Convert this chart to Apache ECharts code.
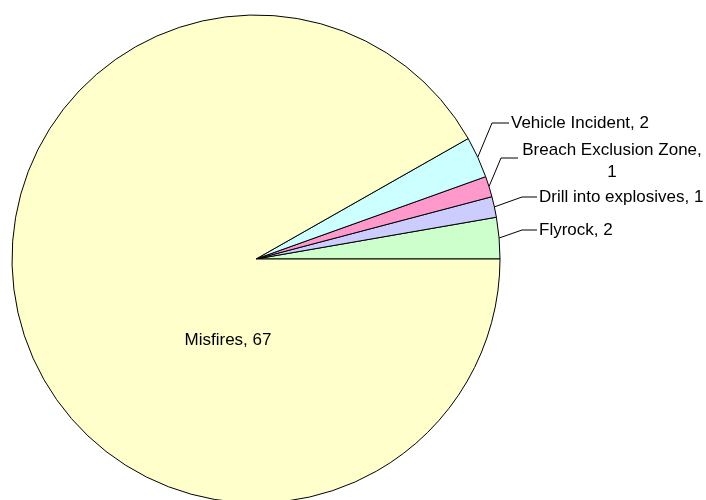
<!DOCTYPE html>
<html>
<head>
<meta charset="utf-8">
<script src="https://cdn.jsdelivr.net/npm/echarts@6/dist/echarts.min.js"></script>
<style>html,body{margin:0;padding:0;background:#fff}#c{width:706px;height:500px}</style>
</head>
<body>
<div id="c"></div>
<script>
var categories = ['Flyrock', 'Drill into explosives', 'Breach Exclusion Zone', 'Vehicle Incident', 'Misfires'];
var values = [2, 1, 1, 2, 67];
var colors = ['#CCFFCC', '#CCCCFF', '#FF99CC', '#CCFFFF', '#FFFFCC'];

var CX = 256, CY = 259, R = 244;
// label placement (elbow point, text anchor) for each category, same order
var labelPlace = [
  {elbow: [522, 230], text: [539, 230], align: 'left'},
  {elbow: [522, 197], text: [539, 197], align: 'left'},
  {elbow: [501, 158], text: [612, 161], align: 'center', lineEnd: [518, 158]},
  {elbow: [492, 123], text: [511, 123], align: 'left'},
  {inside: true, text: [228, 340], align: 'center'}
];

var total = values.reduce(function(a, b){ return a + b; }, 0);
var cum = 0;
var mids = values.map(function(v){ var m = (cum + v / 2) / total * 2 * Math.PI; cum += v; return m; });

var data = categories.map(function(n, i){
  var wrap = labelPlace[i].align === 'center' && !labelPlace[i].inside;
  return {
    name: n,
    value: values[i],
    itemStyle: {color: colors[i]},
    label: {
      position: labelPlace[i].inside ? 'inside' : 'outside',
      formatter: wrap ? '{b},\n{c}' : '{b}, {c}',
      align: labelPlace[i].align,
      lineHeight: 22
    },
    labelLine: {show: !labelPlace[i].inside}
  };
});

var chart = echarts.init(document.getElementById('c'), null, {renderer: 'canvas'});
chart.setOption({
  animation: false,
  backgroundColor: '#ffffff',
  series: [{
    type: 'pie',
    center: [CX, CY],
    radius: [0, R],
    startAngle: 0,
    clockwise: false,
    avoidLabelOverlap: false,
    silent: true,
    data: data,
    itemStyle: {borderColor: '#000000', borderWidth: 1},
    label: {
      show: true,
      color: '#000000',
      fontFamily: 'Liberation Sans, Arial, sans-serif',
      fontSize: 17,
      verticalAlign: 'middle'
    },
    labelLine: {show: true, lineStyle: {color: '#000000', width: 1}, length: 10, length2: 10},
    labelLayout: function(p){
      var i = p.dataIndex, lp = labelPlace[i];
      var res = {x: lp.text[0], y: lp.text[1], align: lp.align, verticalAlign: 'middle'};
      if (!lp.inside) {
        var a = mids[i];
        var anchor = [CX + R * Math.cos(a), CY - R * Math.sin(a)];
        var end = lp.lineEnd || [lp.text[0] - 2, lp.elbow[1]];
        res.labelLinePoints = [anchor, lp.elbow, end];
      }
      return res;
    }
  }]
});
</script>
</body>
</html>
